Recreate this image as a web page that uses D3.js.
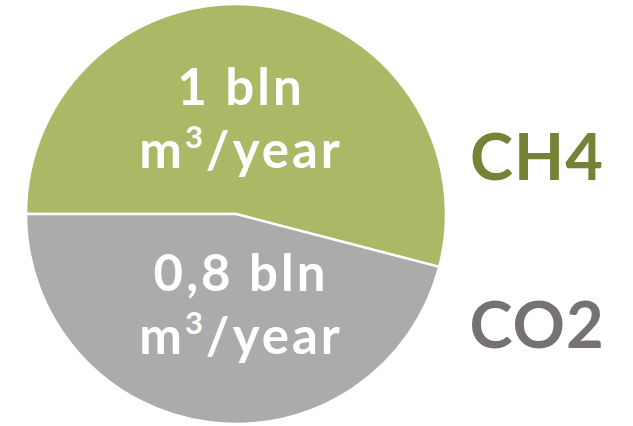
<!DOCTYPE html>
<html>
<head>
<meta charset="utf-8">
<script src="https://cdn.jsdelivr.net/npm/d3@7"></script>
<style>
  html, body { margin: 0; padding: 0; background: #fff; }
  svg { display: block; }
  text { font-family: "Lato", "Open Sans", sans-serif; font-weight: 700; }
</style>
</head>
<body>
<svg id="chart" width="633" height="426"></svg>
<script>
// Data
const categories = ["CH4", "CO2"];
const sliceValues = [1, 0.85];           // share of the pie as drawn
const amountLabels = ["1 bln", "0,8 bln"];
const unitBase = "m";
const unitSup = "3";
const unitRest = "/year";
const sliceColors = ["#aab965", "#ababab"];
const legendColors = ["#788237", "#767272"];

const svg = d3.select("#chart");
const cx = 236, cy = 214, r = 210;

const pie = d3.pie()
  .sort(null)
  .value(d => d.v)
  .startAngle(-Math.PI / 2)
  .endAngle(3 * Math.PI / 2);

const data = categories.map((c, i) => ({ c, v: sliceValues[i], i }));
const arcs = pie(data);
const arc = d3.arc().innerRadius(0).outerRadius(r);

const g = svg.append("g").attr("transform", `translate(${cx},${cy})`);
g.selectAll("path.slice")
  .data(arcs)
  .join("path")
  .attr("class", "slice")
  .attr("d", arc)
  .attr("fill", d => sliceColors[d.data.i])
  .attr("stroke", "#fff")
  .attr("stroke-width", 2.5)
  .attr("stroke-linejoin", "miter");

// In-slice labels
const labelPos = [
  { y1: 105 - cy, y2: 168 - cy },
  { y1: 291 - cy, y2: 354 - cy }
];
const lab = g.selectAll("g.lab")
  .data(arcs)
  .join("g")
  .attr("class", "lab");

lab.append("text")
  .attr("x", 5)
  .attr("y", (d, i) => labelPos[i].y1)
  .attr("text-anchor", "middle")
  .attr("fill", "#fff")
  .attr("font-size", 51)
  .attr("letter-spacing", 3)
  .text((d, i) => amountLabels[i]);

const unit = lab.append("text")
  .attr("x", 5)
  .attr("y", (d, i) => labelPos[i].y2)
  .attr("text-anchor", "middle")
  .attr("fill", "#fff")
  .attr("font-size", 51)
  .attr("letter-spacing", 3);
unit.append("tspan").text(unitBase);
unit.append("tspan").attr("font-size", 31).attr("dy", -20).text(unitSup);
unit.append("tspan").attr("dy", 20).text(unitRest);

// Legend labels
const legendY = [180, 348];
svg.selectAll("text.legend")
  .data(categories)
  .join("text")
  .attr("class", "legend")
  .attr("x", 537)
  .attr("y", (d, i) => legendY[i])
  .attr("text-anchor", "middle")
  .attr("font-size", 65)
  .attr("letter-spacing", 1)
  .attr("fill", (d, i) => legendColors[i])
  .text(d => d);
</script>
</body>
</html>
